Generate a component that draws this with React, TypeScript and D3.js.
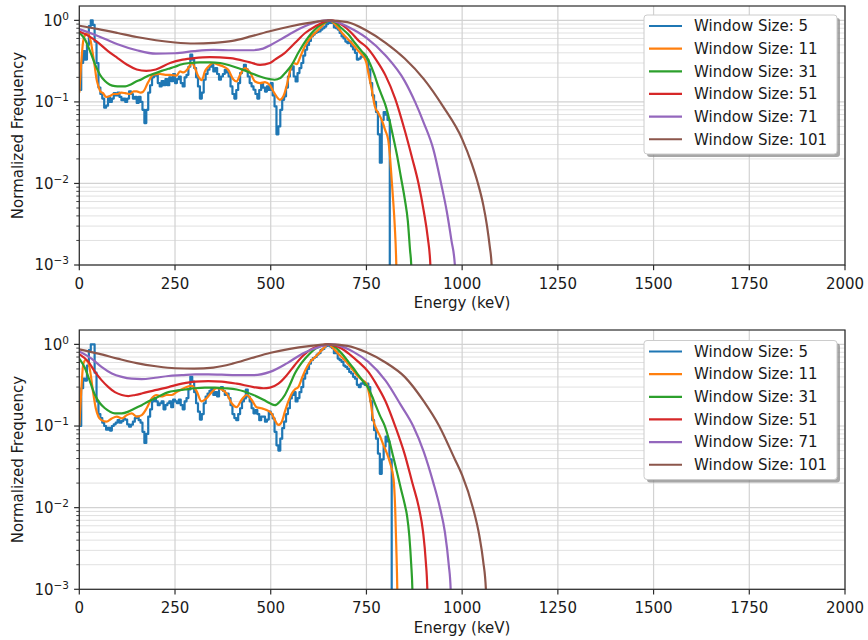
import React from "react";
import * as d3 from "d3";

// ---- chart data ----------------------------------------------------------
const windowSizes = [5, 11, 31, 51, 71, 101];
const seriesColors = ["#1f77b4", "#ff7f0e", "#2ca02c", "#d62728", "#9467bd", "#8c564b"];
const xTickValues = [0, 250, 500, 750, 1000, 1250, 1500, 1750, 2000];
const yMajorValues = [1e-3, 1e-2, 1e-1, 1];
const yMajorExponents = ["\u22123", "\u22122", "\u22121", "0"];

// Window 5 series is drawn as a step histogram of 5 keV bins starting at 0 keV
const binWidth = 5;

// upper panel
const topW5 = [
  0.14, 0.3, 0.42, 0.33, 0.5, 0.85, 1.0, 0.88, 0.55, 0.3,
  0.15, 0.125, 0.11, 0.085, 0.09, 0.115, 0.1, 0.11, 0.128, 0.12,
  0.13, 0.115, 0.105, 0.11, 0.1, 0.11, 0.135, 0.125, 0.11, 0.115,
  0.097, 0.115, 0.1, 0.08, 0.055, 0.08, 0.13, 0.16, 0.2, 0.21,
  0.22, 0.17, 0.155, 0.18, 0.16, 0.19, 0.16, 0.2, 0.18, 0.22,
  0.17, 0.19, 0.205, 0.17, 0.155, 0.2, 0.215, 0.27, 0.38, 0.33,
  0.26, 0.2, 0.155, 0.11, 0.13, 0.187, 0.22, 0.248, 0.27, 0.285,
  0.236, 0.26, 0.22, 0.187, 0.205, 0.22, 0.248, 0.23, 0.205, 0.155,
  0.125, 0.11, 0.14, 0.17, 0.226, 0.25, 0.285, 0.25, 0.205, 0.17,
  0.155, 0.141, 0.125, 0.11, 0.14, 0.17, 0.15, 0.134, 0.155, 0.14,
  0.17, 0.12, 0.088, 0.04, 0.05, 0.08, 0.106, 0.117, 0.15, 0.205,
  0.25, 0.272, 0.205, 0.178, 0.226, 0.26, 0.3, 0.37, 0.436, 0.5,
  0.56, 0.636, 0.67, 0.7, 0.72, 0.73, 0.77, 0.8, 0.84, 0.9,
  1.0, 0.93, 0.95, 0.82, 0.8, 0.77, 0.7, 0.636, 0.6, 0.55,
  0.527, 0.55, 0.48, 0.44, 0.4, 0.33, 0.34, 0.36, 0.38, 0.36,
  0.33, 0.25, 0.17, 0.12, 0.1, 0.075, 0.04, 0.018, 0.06, 0.075,
  0.07, 0.06,
];
const topW5End = 811;

const topW11: [number, number][] = [
  [0, 0.13], [5, 0.3], [10, 0.55], [15, 0.66], [20, 0.7], [25, 0.66], [30, 0.55], [35, 0.4],
  [40, 0.28], [45, 0.19], [50, 0.155], [55, 0.135], [62, 0.128], [70, 0.115], [80, 0.118],
  [90, 0.125], [100, 0.125], [110, 0.13], [120, 0.128], [132, 0.125], [142, 0.135], [150, 0.135],
  [160, 0.13], [167, 0.134], [180, 0.175], [193, 0.215], [211, 0.22], [225, 0.215], [237, 0.215],
  [254, 0.21], [263, 0.237], [272, 0.23], [285, 0.26], [294, 0.3], [302, 0.26], [311, 0.205],
  [320, 0.185], [328, 0.236], [337, 0.27], [350, 0.3], [363, 0.285], [376, 0.272], [389, 0.248],
  [402, 0.19], [411, 0.178], [420, 0.215], [433, 0.26], [446, 0.23], [459, 0.178], [472, 0.17],
  [485, 0.175], [498, 0.16], [507, 0.134], [515, 0.117], [524, 0.106], [533, 0.117], [542, 0.16],
  [550, 0.236], [559, 0.3], [568, 0.29], [576, 0.345], [585, 0.436], [594, 0.527], [607, 0.636],
  [620, 0.73], [633, 0.84], [646, 0.97], [655, 1.0], [664, 0.93], [677, 0.8], [690, 0.67],
  [703, 0.58], [716, 0.5], [729, 0.42], [742, 0.36], [750, 0.3], [755, 0.226], [764, 0.141],
  [772, 0.088], [781, 0.073], [790, 0.06], [799, 0.045], [807, 0.034], [812, 0.02], [816, 0.011],
  [820, 0.006], [824, 0.003], [828, 0.001], [830, 0],
];

const topW31: [number, number][] = [
  [0, 0.71], [15, 0.58], [28, 0.42], [41, 0.29], [54, 0.215], [67, 0.18], [80, 0.162], [93, 0.156],
  [106, 0.155], [120, 0.155], [133, 0.162], [146, 0.175], [163, 0.19], [180, 0.21], [198, 0.225],
  [215, 0.24], [233, 0.255], [250, 0.27], [263, 0.285], [289, 0.3], [315, 0.305], [341, 0.305],
  [368, 0.3], [394, 0.28], [420, 0.255], [446, 0.228], [472, 0.205], [498, 0.19], [510, 0.187],
  [525, 0.196], [537, 0.225], [555, 0.285], [572, 0.4], [590, 0.55], [607, 0.7], [624, 0.84],
  [642, 0.945], [655, 1.0], [668, 0.945], [685, 0.8], [703, 0.67], [720, 0.527], [738, 0.416],
  [750, 0.36], [760, 0.29], [770, 0.22], [780, 0.16], [790, 0.12], [800, 0.09], [810, 0.06],
  [820, 0.037], [830, 0.022], [840, 0.012], [850, 0.0065], [858, 0.0035], [864, 0.0015],
  [867, 0.001], [868, 0],
];

const topW51: [number, number][] = [
  [0, 0.73], [25, 0.64], [50, 0.53], [75, 0.42], [100, 0.345], [125, 0.285], [150, 0.25],
  [175, 0.24], [200, 0.25], [237, 0.3], [270, 0.33], [300, 0.345], [341, 0.355], [394, 0.345],
  [446, 0.305], [472, 0.285], [498, 0.3], [511, 0.33], [537, 0.4], [563, 0.527], [590, 0.7],
  [616, 0.84], [642, 0.97], [659, 1.0], [685, 0.885], [711, 0.7], [730, 0.56], [750, 0.47],
  [775, 0.33], [800, 0.21], [825, 0.11], [850, 0.045], [870, 0.02], [886, 0.01], [900, 0.0045],
  [910, 0.0022], [917, 0.001], [919, 0],
];

const topW71: [number, number][] = [
  [0, 0.78], [50, 0.64], [100, 0.51], [150, 0.43], [200, 0.39], [250, 0.395], [300, 0.42],
  [350, 0.435], [400, 0.43], [450, 0.43], [480, 0.45], [500, 0.5], [525, 0.58], [550, 0.68],
  [575, 0.79], [600, 0.89], [625, 0.97], [650, 1.0], [675, 0.95], [700, 0.84], [750, 0.61],
  [800, 0.37], [850, 0.18], [877, 0.1], [900, 0.055], [925, 0.026], [945, 0.01], [960, 0.0045],
  [972, 0.002], [981, 0.001], [983, 0],
];

const topW101: [number, number][] = [
  [0, 0.86], [50, 0.78], [100, 0.7], [150, 0.625], [200, 0.57], [250, 0.535], [300, 0.52],
  [350, 0.53], [400, 0.56], [450, 0.64], [500, 0.74], [550, 0.84], [600, 0.93], [650, 1.0],
  [700, 0.95], [750, 0.75], [800, 0.53], [850, 0.34], [900, 0.19], [950, 0.088], [1000, 0.035],
  [1025, 0.0175], [1040, 0.0105], [1055, 0.0055], [1065, 0.003], [1072, 0.0017], [1077, 0.001],
  [1079, 0],
];

// lower panel
const bottomW5 = [
  0.1, 0.29, 0.38, 0.36, 0.55, 0.85, 1.0, 1.0, 0.45, 0.2,
  0.14, 0.125, 0.11, 0.1, 0.09, 0.095, 0.088, 0.1, 0.105, 0.11,
  0.118, 0.11, 0.115, 0.122, 0.12, 0.105, 0.098, 0.104, 0.113, 0.125,
  0.13, 0.118, 0.11, 0.085, 0.062, 0.08, 0.13, 0.16, 0.2, 0.22,
  0.2, 0.18, 0.19, 0.2, 0.16, 0.18, 0.19, 0.2, 0.17, 0.21,
  0.2, 0.19, 0.21, 0.18, 0.16, 0.2, 0.22, 0.28, 0.4, 0.35,
  0.26, 0.19, 0.15, 0.12, 0.14, 0.19, 0.23, 0.25, 0.27, 0.29,
  0.24, 0.26, 0.23, 0.29, 0.3, 0.27, 0.24, 0.25, 0.22, 0.18,
  0.14, 0.125, 0.118, 0.14, 0.165, 0.2, 0.218, 0.28, 0.23, 0.2,
  0.165, 0.143, 0.157, 0.14, 0.118, 0.13, 0.13, 0.113, 0.12, 0.15,
  0.14, 0.124, 0.085, 0.058, 0.05, 0.07, 0.094, 0.113, 0.14, 0.165,
  0.218, 0.24, 0.26, 0.2, 0.22, 0.26, 0.3, 0.38, 0.44, 0.5,
  0.58, 0.64, 0.68, 0.7, 0.75, 0.78, 0.85, 0.88, 0.94, 0.96,
  1.0, 0.94, 0.9, 0.78, 0.8, 0.67, 0.64, 0.61, 0.55, 0.53,
  0.5, 0.46, 0.44, 0.4, 0.38, 0.32, 0.3, 0.33, 0.34, 0.32,
  0.33, 0.3, 0.2, 0.118, 0.089, 0.07, 0.046, 0.026, 0.039, 0.056,
  0.074, 0.065, 0.039,
];
const bottomW5End = 816;

const bottomW11: [number, number][] = [
  [0, 0.1], [6, 0.32], [10, 0.56], [16, 0.64], [23, 0.61], [30, 0.42], [36, 0.26], [43, 0.165],
  [50, 0.13], [58, 0.118], [71, 0.113], [85, 0.124], [98, 0.13], [111, 0.124], [124, 0.136],
  [137, 0.143], [150, 0.13], [163, 0.136], [176, 0.165], [189, 0.218], [202, 0.24], [215, 0.23],
  [228, 0.24], [241, 0.24], [254, 0.26], [267, 0.28], [280, 0.3], [293, 0.31], [306, 0.27],
  [319, 0.2], [332, 0.218], [346, 0.26], [359, 0.29], [372, 0.28], [385, 0.25], [398, 0.19],
  [411, 0.17], [424, 0.21], [437, 0.24], [450, 0.21], [463, 0.17], [476, 0.165], [489, 0.157],
  [502, 0.143], [511, 0.118], [520, 0.103], [529, 0.113], [537, 0.15], [546, 0.2], [555, 0.25],
  [563, 0.28], [572, 0.3], [581, 0.38], [590, 0.48], [603, 0.61], [616, 0.7], [629, 0.81],
  [642, 0.94], [651, 1.0], [659, 0.94], [672, 0.81], [685, 0.7], [698, 0.61], [711, 0.51],
  [725, 0.42], [738, 0.37], [750, 0.33], [760, 0.21], [768, 0.118], [777, 0.09], [786, 0.074],
  [794, 0.059], [803, 0.047], [812, 0.035], [821, 0.022], [825, 0.01], [828, 0.0033],
  [830.6, 0.001], [832, 0],
];

const bottomW31: [number, number][] = [
  [0, 0.67], [15, 0.51], [28, 0.35], [41, 0.24], [54, 0.19], [67, 0.165], [80, 0.15], [93, 0.143],
  [111, 0.143], [128, 0.15], [146, 0.165], [163, 0.18], [180, 0.2], [198, 0.218], [215, 0.24],
  [233, 0.26], [250, 0.27], [276, 0.28], [302, 0.29], [328, 0.295], [354, 0.295], [380, 0.29],
  [411, 0.28], [455, 0.24], [481, 0.21], [498, 0.19], [511, 0.18], [524, 0.2], [537, 0.24],
  [550, 0.32], [563, 0.44], [577, 0.56], [590, 0.67], [603, 0.78], [616, 0.88], [629, 0.95],
  [642, 0.99], [651, 1.0], [664, 0.96], [677, 0.85], [690, 0.73], [703, 0.61], [716, 0.51],
  [729, 0.42], [742, 0.35], [755, 0.29], [765, 0.23], [775, 0.175], [785, 0.135], [798, 0.1],
  [810, 0.065], [820, 0.042], [830, 0.027], [840, 0.017], [850, 0.011], [856, 0.008],
  [862, 0.0045], [867, 0.002], [870, 0.001], [872, 0],
];

const bottomW51: [number, number][] = [
  [0, 0.76], [24, 0.61], [41, 0.46], [58, 0.365], [76, 0.3], [93, 0.26], [111, 0.24], [128, 0.233],
  [146, 0.24], [163, 0.25], [198, 0.275], [233, 0.3], [268, 0.33], [302, 0.35], [337, 0.355],
  [372, 0.35], [411, 0.33], [455, 0.3], [481, 0.29], [498, 0.295], [520, 0.33], [542, 0.42],
  [563, 0.56], [585, 0.73], [607, 0.88], [629, 0.96], [646, 1.0], [664, 0.98], [685, 0.89],
  [707, 0.75], [729, 0.61], [755, 0.46], [775, 0.33], [800, 0.2], [825, 0.1], [850, 0.045],
  [870, 0.02], [887, 0.01], [898, 0.005], [905, 0.0022], [909, 0.001], [911, 0],
];

const bottomW71: [number, number][] = [
  [0, 0.82], [32, 0.67], [58, 0.53], [85, 0.44], [111, 0.4], [137, 0.38], [163, 0.375], [198, 0.39],
  [233, 0.41], [268, 0.42], [302, 0.43], [337, 0.43], [372, 0.425], [411, 0.42], [455, 0.42],
  [498, 0.46], [542, 0.585], [585, 0.78], [629, 0.94], [655, 1.0], [681, 0.96], [716, 0.81],
  [755, 0.61], [800, 0.36], [840, 0.18], [872, 0.1], [900, 0.048], [925, 0.02], [942, 0.01],
  [955, 0.005], [965, 0.002], [970, 0.001], [972, 0],
];

const bottomW101: [number, number][] = [
  [0, 0.87], [50, 0.77], [100, 0.67], [150, 0.59], [200, 0.54], [250, 0.51], [300, 0.505],
  [350, 0.52], [400, 0.58], [450, 0.68], [500, 0.79], [550, 0.88], [600, 0.95], [650, 1.0],
  [700, 0.96], [750, 0.8], [800, 0.6], [850, 0.4], [900, 0.2], [940, 0.1], [980, 0.04],
  [1000, 0.025], [1028, 0.01], [1045, 0.0045], [1055, 0.0022], [1062, 0.001], [1064, 0],
];

// ---- layout ----------------------------------------------------------------
const WIDTH = 868;
const HEIGHT = 640;
const PLOT_LEFT = 79.3;
const PLOT_RIGHT = 845;
const X_DOMAIN: [number, number] = [0, 2000];
const Y_DOMAIN: [number, number] = [1e-3, 1.5];
const FONT = "'DejaVu Sans', Verdana, sans-serif";

type PanelProps = {
  id: string;
  top: number;
  bottom: number;
  legendTop: number;
  stepValues: number[];
  stepEnd: number;
  curves: [number, number][][];
};

function Panel({ id, top, bottom, legendTop, stepValues, stepEnd, curves }: PanelProps) {
  const x = d3.scaleLinear().domain(X_DOMAIN).range([PLOT_LEFT, PLOT_RIGHT]);
  const y = d3.scaleLog().domain(Y_DOMAIN).range([bottom, top]);
  // zero counts fall off the bottom of the log axis
  const yOf = (v: number) => (v > 0 ? y(v) : bottom + 40);

  const stepLine = d3
    .line<[number, number]>()
    .x((d) => x(d[0]))
    .y((d) => yOf(d[1]))
    .curve(d3.curveStepAfter);
  const smoothLine = d3
    .line<[number, number]>()
    .x((d) => x(d[0]))
    .y((d) => yOf(d[1]))
    .curve(d3.curveMonotoneX);

  const stepPoints: [number, number][] = stepValues.map((v, i) => [i * binWidth, v] as [number, number]);
  stepPoints.push([stepEnd, 0]);

  const minorValues: number[] = [];
  yMajorValues.slice(0, 3).forEach((dec) => {
    for (let k = 2; k <= 9; k++) minorValues.push(dec * k);
  });

  const midY = (top + bottom) / 2;
  const rowGap = 22.65;
  const legendW = 193;
  const legendH = 139;
  const legendX = 644;

  return (
    <g>
      <defs>
        <clipPath id={id}>
          <rect x={PLOT_LEFT} y={top} width={PLOT_RIGHT - PLOT_LEFT} height={bottom - top} />
        </clipPath>
      </defs>

      {/* grid */}
      <g>
        {minorValues.map((v) => (
          <line key={"mg" + v} x1={PLOT_LEFT} x2={PLOT_RIGHT} y1={y(v)} y2={y(v)} stroke="#e1e1e1" strokeWidth={1} />
        ))}
        {yMajorValues.map((v) => (
          <line key={"Mg" + v} x1={PLOT_LEFT} x2={PLOT_RIGHT} y1={y(v)} y2={y(v)} stroke="#d2d2d2" strokeWidth={1.2} />
        ))}
        {xTickValues.map((v) => (
          <line key={"xg" + v} x1={x(v)} x2={x(v)} y1={top} y2={bottom} stroke="#d2d2d2" strokeWidth={1.2} />
        ))}
      </g>

      {/* series */}
      <g clipPath={`url(#${id})`} fill="none" strokeWidth={2.2} strokeLinejoin="round">
        <path d={stepLine(stepPoints) || ""} stroke={seriesColors[0]} />
        {curves.map((c, i) => (
          <path key={i} d={smoothLine(c) || ""} stroke={seriesColors[i + 1]} />
        ))}
      </g>

      {/* frame */}
      <rect x={PLOT_LEFT} y={top} width={PLOT_RIGHT - PLOT_LEFT} height={bottom - top} fill="none" stroke="#2b2b2b" strokeWidth={1.2} />

      {/* y axis ticks */}
      {minorValues.map((v) => (
        <line key={"mt" + v} x1={PLOT_LEFT - 3} x2={PLOT_LEFT} y1={y(v)} y2={y(v)} stroke="#2b2b2b" strokeWidth={0.9} />
      ))}
      {yMajorValues.map((v, i) => (
        <g key={"yt" + v}>
          <line x1={PLOT_LEFT - 5.2} x2={PLOT_LEFT} y1={y(v)} y2={y(v)} stroke="#2b2b2b" strokeWidth={1.2} />
          <text x={69} y={y(v) + 5.4} textAnchor="end" fontFamily={FONT} fontSize={15} fill="#1a1a1a">
            10
            <tspan dy={-6} fontSize={10.5}>
              {yMajorExponents[i]}
            </tspan>
          </text>
        </g>
      ))}

      {/* x axis ticks */}
      {xTickValues.map((v) => (
        <g key={"xt" + v}>
          <line x1={x(v)} x2={x(v)} y1={bottom} y2={bottom + 5.2} stroke="#2b2b2b" strokeWidth={1.2} />
          <text x={x(v)} y={bottom + 23.5} textAnchor="middle" fontFamily={FONT} fontSize={15} fill="#1a1a1a">
            {v}
          </text>
        </g>
      ))}

      {/* axis labels */}
      <text x={(PLOT_LEFT + PLOT_RIGHT) / 2} y={bottom + 43.3} textAnchor="middle" fontFamily={FONT} fontSize={15} fill="#1a1a1a">
        Energy (keV)
      </text>
      <text
        transform={`translate(23,${midY}) rotate(-90)`}
        textAnchor="middle"
        fontFamily={FONT}
        fontSize={15}
        fill="#1a1a1a"
      >
        Normalized Frequency
      </text>

      {/* legend with drop shadow */}
      <g>
        <rect x={legendX + 3} y={legendTop + 3} width={legendW} height={legendH} rx={3} fill="#8a8a8a" opacity={0.75} />
        <rect x={legendX} y={legendTop} width={legendW} height={legendH} rx={3} fill="#ffffff" stroke="#cccccc" strokeWidth={1} />
        {windowSizes.map((w, i) => {
          const cy = legendTop + 11 + i * rowGap;
          return (
            <g key={"lg" + w}>
              <line x1={legendX + 5} x2={legendX + 38} y1={cy} y2={cy} stroke={seriesColors[i]} strokeWidth={2.2} />
              <text x={legendX + 50} y={cy + 5.3} fontFamily={FONT} fontSize={15} fill="#1a1a1a">
                {`Window Size: ${w}`}
              </text>
            </g>
          );
        })}
      </g>
    </g>
  );
}

export default function App() {
  return (
    <svg width={WIDTH} height={HEIGHT} viewBox={`0 0 ${WIDTH} ${HEIGHT}`} style={{ display: "block", position: "absolute", left: 0, top: 0, background: "#ffffff" }}>
      <rect x={0} y={0} width={WIDTH} height={HEIGHT} fill="#ffffff" />
      <Panel
        id="clip-upper"
        top={6}
        bottom={265}
        legendTop={15}
        stepValues={topW5}
        stepEnd={topW5End}
        curves={[topW11, topW31, topW51, topW71, topW101]}
      />
      <Panel
        id="clip-lower"
        top={330}
        bottom={589.3}
        legendTop={340.5}
        stepValues={bottomW5}
        stepEnd={bottomW5End}
        curves={[bottomW11, bottomW31, bottomW51, bottomW71, bottomW101]}
      />
    </svg>
  );
}
